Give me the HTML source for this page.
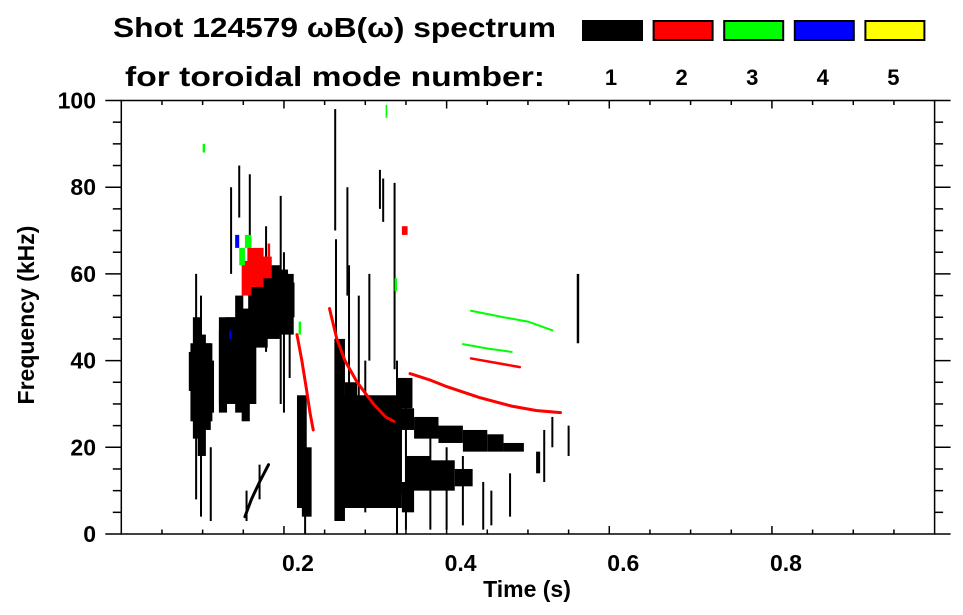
<!DOCTYPE html>
<html><head><meta charset="utf-8"><style>
html,body{margin:0;padding:0;background:#fff;}
svg{display:block;font-family:"Liberation Sans",sans-serif;font-weight:bold;}
</style></head><body>
<svg id="chart" width="963" height="615" viewBox="0 0 963 615">
<g id="header">
<text x="113" y="37" font-size="28" textLength="443" lengthAdjust="spacingAndGlyphs">Shot 124579 ωB(ω) spectrum</text>
<text x="125" y="86" font-size="28" textLength="420" lengthAdjust="spacingAndGlyphs">for toroidal mode number:</text>
</g>
<g id="legend"></g>
<g id="marks"></g>
<g id="axes"></g>
</svg>
<script>
const modeLabels = ["1","2","3","4","5"];
const modeColors = ["#000000","#ff0000","#00ff00","#0000ff","#ffff00"];
const xTickValues = [0.2,0.4,0.6,0.8];
const xTickLabels = ["0.2","0.4","0.6","0.8"];
const yTickValues = [0,20,40,60,80,100];
const yTickLabels = ["0","20","40","60","80","100"];
// black (n=1) patches: time start, time end, freq low, freq high
const n1T0 = [0.085,0.120,0.165,0.263,0.083,0.088,0.094,0.100,0.106,0.120,0.128,0.140,0.148,0.156,0.165,0.178,0.190,0.200,0.216,0.222,0.262,0.275,0.290,0.305,0.320,0.335,0.340,0.360,0.390,0.420,0.450,0.470,0.350,0.380,0.410,0.345,0.340,0.510,0.560];
const n1T1 = [0.112,0.165,0.212,0.345,0.090,0.098,0.104,0.110,0.114,0.130,0.140,0.150,0.158,0.166,0.180,0.195,0.205,0.213,0.228,0.234,0.275,0.290,0.305,0.320,0.335,0.345,0.360,0.390,0.420,0.450,0.470,0.495,0.380,0.410,0.432,0.360,0.358,0.515,0.563];
const n1Lo = [26,30,46,6,33,22,18,24,28,28,32,28,26,30,43,45,48,50,6,4,3,8,6,7,8,9,24,22,21,19,19,19,10,10,11,5,29,14,44];
const n1Hi = [44,50,60,32,42,50,46,44,40,47,50,55,52,57,60,62,61,58,32,20,45,35,30,28,27,26,29,27,25,24,23,21,18,17,15,12,36,19,60];
// black thin streaks: time, freq low, freq high
const n1StreakT = [0.092,0.098,0.110,0.135,0.145,0.158,0.178,0.196,0.200,0.207,0.263,0.264,0.278,0.280,0.292,0.300,0.305,0.318,0.322,0.336,0.339,0.350,0.380,0.400,0.420,0.445,0.455,0.478,0.520,0.530,0.550,0.154,0.170,0.226];
const n1StreakLo = [8,4,3,60,73,52,42,30,28,36,70,30,55,20,25,5,40,75,72,38,0,1,1,1,2,1,2,4,12,20,18,3,8,0];
const n1StreakHi = [60,55,20,80,85,83,71,78,65,58,98,68,80,62,55,40,60,84,82,81,40,30,25,20,18,12,10,14,24,27,25,10,16,10];
// n=1 diagonal chirp track (time, freq)
const n1ChirpT = [0.152,0.160,0.170,0.181];
const n1ChirpF = [4,8,12,16];
// red (n=2) patches
const n2T0 = [0.148,0.155,0.160,0.345,0.180];
const n2T1 = [0.160,0.175,0.185,0.352,0.183];
const n2Lo = [55,57,59,69,64];
const n2Hi = [63,66,64,71,67];
// red tracks
const n2TrackAT = [0.216,0.222,0.228,0.232,0.236];
const n2TrackAF = [46,40,33,28,24];
const n2TrackBT = [0.256,0.265,0.275,0.290,0.310,0.325,0.335];
const n2TrackBF = [52,45,40,35,30,27,26];
const n2TrackCT = [0.355,0.380,0.400,0.440,0.480,0.510,0.540];
const n2TrackCF = [37,35.5,34,31.5,29.5,28.5,28];
const n2TrackDT = [0.430,0.460,0.490];
const n2TrackDF = [40.5,39.5,38.5];
// green (n=3)
const n3T0 = [0.145,0.152,0.100,0.218,0.336,0.325];
const n3T1 = [0.152,0.160,0.103,0.221,0.339,0.327];
const n3Lo = [62,66,88,46,56,96];
const n3Hi = [66,69,90,49,59,99];
const n3TrackAT = [0.430,0.470,0.500,0.530];
const n3TrackAF = [51.5,50,49,47];
const n3TrackBT = [0.420,0.450,0.480];
const n3TrackBF = [43.8,42.8,42];
// blue (n=4)
const n4T0 = [0.140,0.133];
const n4T1 = [0.145,0.135];
const n4Lo = [66,45];
const n4Hi = [69,47];

const NS="http://www.w3.org/2000/svg";
const X0=121.3, XS=813.3, Y0=534, YS=4.335;
function xScale(t){return X0+XS*t;}
function yScale(f){return Y0-YS*f;}
function mk(tag,attrs,parent){const e=document.createElementNS(NS,tag);for(const k in attrs)e.setAttribute(k,attrs[k]);parent.appendChild(e);return e;}
const marks=document.getElementById('marks');
const axes=document.getElementById('axes');
const legend=document.getElementById('legend');

function drawPatches(t0,t1,lo,hi,color,name){
  for(let i=0;i<t0.length;i++){
    const r=mk('rect',{x:xScale(t0[i]),y:yScale(hi[i]),width:Math.max(1.5,xScale(t1[i])-xScale(t0[i])),height:Math.max(1.5,yScale(lo[i])-yScale(hi[i])),fill:color},marks);
    
    
  }
}
function drawStreaks(t,lo,hi,color,name){
  for(let i=0;i<t.length;i++){
    const l=mk('line',{x1:xScale(t[i]),x2:xScale(t[i]),y1:yScale(lo[i]),y2:yScale(hi[i]),stroke:color,'stroke-width':2},marks);
    
    
  }
}
function drawTrack(t,f,color,w,name){
  const pts=t.map((v,i)=>xScale(v)+','+yScale(f[i])).join(' ');
  const p=mk('polyline',{points:pts,fill:'none',stroke:color,'stroke-width':w,'stroke-linecap':'round'},marks);
  
  
}
drawPatches(n1T0,n1T1,n1Lo,n1Hi,modeColors[0],'mode1-patch');
drawStreaks(n1StreakT,n1StreakLo,n1StreakHi,modeColors[0],'mode1-streak');
drawTrack(n1ChirpT,n1ChirpF,modeColors[0],3,'mode1-chirp');
drawPatches(n2T0,n2T1,n2Lo,n2Hi,modeColors[1],'mode2-patch');
drawTrack(n2TrackAT,n2TrackAF,modeColors[1],3,'mode2-track');
drawTrack(n2TrackBT,n2TrackBF,modeColors[1],3,'mode2-track');
drawTrack(n2TrackCT,n2TrackCF,modeColors[1],3,'mode2-track');
drawTrack(n2TrackDT,n2TrackDF,modeColors[1],2.5,'mode2-track');
drawPatches(n3T0,n3T1,n3Lo,n3Hi,modeColors[2],'mode3-patch');
drawTrack(n3TrackAT,n3TrackAF,modeColors[2],2,'mode3-track');
drawTrack(n3TrackBT,n3TrackBF,modeColors[2],2,'mode3-track');
drawPatches(n4T0,n4T1,n4Lo,n4Hi,modeColors[3],'mode4-patch');

// legend
for(let i=0;i<modeLabels.length;i++){
  const x=582+i*70.6;
  const r=mk('rect',{x:x+1,y:21,width:59,height:19,fill:modeColors[i],stroke:'#000','stroke-width':2},legend);
  
  
  const t=mk('text',{x:x+29,y:85,'font-size':22,'text-anchor':'middle'},legend);
  t.textContent=modeLabels[i];
  
  
}

// axes frame
const XL=xScale(0), XR=xScale(1), YT=yScale(100), YB=yScale(0);
const frame=mk('rect',{x:XL,y:YT,width:XR-XL,height:YB-YT,fill:'none',stroke:'#000','stroke-width':1.5},axes);


for(let k=1;k<20;k++){
  const t=k*0.05, x=xScale(t);
  const major=(k%4===0);
  const len=major?8:4.5;
  mk('line',{x1:x,x2:x,y1:YB,y2:YB-len,stroke:'#000','stroke-width':1.5},axes);
  mk('line',{x1:x,x2:x,y1:YT,y2:YT+len,stroke:'#000','stroke-width':1.5},axes);
}
for(let i=0;i<xTickValues.length;i++){
  const t=mk('text',{x:xScale(xTickValues[i])+14,y:571,'font-size':23,'text-anchor':'middle'},axes);
  t.textContent=xTickLabels[i];
  
  
}
for(let k=0;k<=20;k++){
  const f=k*5, y=yScale(f);
  const major=(k%4===0);
  const len=major?16:8.5;
  mk('line',{x1:XL,x2:XL-len,y1:y,y2:y,stroke:'#000','stroke-width':1.5},axes);
  mk('line',{x1:XR,x2:XR+len,y1:y,y2:y,stroke:'#000','stroke-width':1.5},axes);
}
for(let i=0;i<yTickValues.length;i++){
  const t=mk('text',{x:96,y:yScale(yTickValues[i])+8,'font-size':23,'text-anchor':'end'},axes);
  t.textContent=yTickLabels[i];
  
  
}
const xt=mk('text',{x:527,y:597,'font-size':23,'text-anchor':'middle'},axes);
xt.textContent='Time (s)';


const yt=mk('text',{x:0,y:0,'font-size':23,'text-anchor':'middle',transform:'translate(34,315) rotate(-90)'},axes);
yt.textContent='Frequency (kHz)';


</script>
</body></html>
